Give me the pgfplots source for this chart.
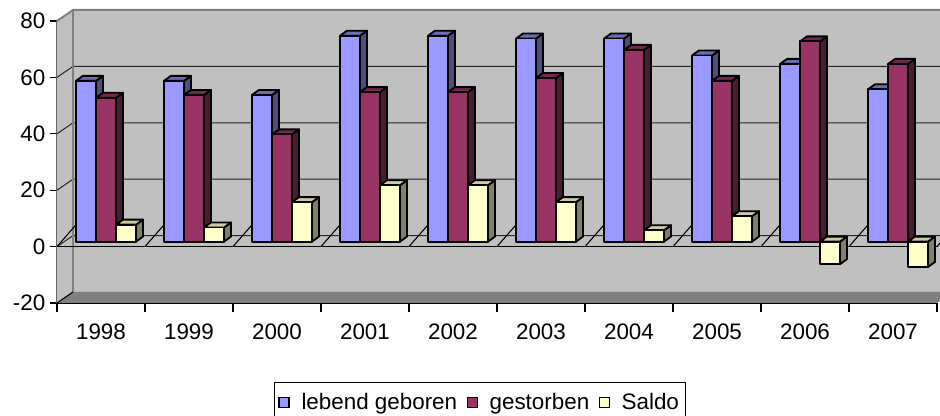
\documentclass[border=0pt]{standalone}
\usepackage{fontspec}
\setmainfont{Liberation Sans}
\usepackage{pgfplots}
\pgfplotsset{compat=1.18}

\definecolor{blueF}{HTML}{9999FF}
\definecolor{blueS}{HTML}{4D4D80}
\definecolor{blueT}{HTML}{6B6BB3}
\definecolor{purpF}{HTML}{993366}
\definecolor{purpS}{HTML}{4D1A33}
\definecolor{purpT}{HTML}{732650}
\definecolor{yelF}{HTML}{FFFFCC}
\definecolor{yelS}{HTML}{808066}
\definecolor{yelT}{HTML}{CCCCA3}
\definecolor{wall}{HTML}{C0C0C0}
\definecolor{floorc}{HTML}{808080}

% 1px = 0.75pt; bar plane and bar depth both (7px,5px)
\newdimen\barh \newdimen\bartop \newdimen\barbot \newdimen\bartopb \newdimen\barbotb
\newcommand\barbox[7]{%
  \barh=\vv pt \barh=2.115\barh
  \ifdim\barh>0pt
    \bartop=3.75pt \barbot=3.75pt \advance\barbot by -\barh
  \else
    \barbot=3.75pt \bartop=3.75pt \advance\bartop by -\barh
  \fi
  \bartopb=\bartop \advance\bartopb by 3.75pt
  \barbotb=\barbot \advance\barbotb by 3.75pt
  \pgfsetlinewidth{1.4pt}\pgfsetstrokecolor{black}\pgfsetroundjoin
  \pgfsetfillcolor{#6}%
  \pgfpathmoveto{\pgfpoint{#2pt}{\barbot}}%
  \pgfpathlineto{\pgfpoint{#4pt}{\barbotb}}%
  \pgfpathlineto{\pgfpoint{#4pt}{\bartopb}}%
  \pgfpathlineto{\pgfpoint{#2pt}{\bartop}}%
  \pgfpathclose\pgfusepath{fill,stroke}%
  \pgfsetfillcolor{#7}%
  \pgfpathmoveto{\pgfpoint{#1pt}{\bartop}}%
  \pgfpathlineto{\pgfpoint{#3pt}{\bartopb}}%
  \pgfpathlineto{\pgfpoint{#4pt}{\bartopb}}%
  \pgfpathlineto{\pgfpoint{#2pt}{\bartop}}%
  \pgfpathclose\pgfusepath{fill,stroke}%
  \pgfsetfillcolor{#5}%
  \pgfpathrectanglecorners{\pgfpoint{#1pt}{\barbot}}{\pgfpoint{#2pt}{\bartop}}%
  \pgfusepath{fill,stroke}%
}
\pgfdeclareplotmark{barA}{\barbox{-18.75}{-3.75}{-13.5}{1.5}{blueF}{blueS}{blueT}}
\pgfdeclareplotmark{barB}{\barbox{-3.75}{11.25}{1.5}{16.5}{purpF}{purpS}{purpT}}
\pgfdeclareplotmark{barC}{\barbox{11.25}{26.25}{16.5}{31.5}{yelF}{yelS}{yelT}}

\tikzset{back/.style={shift={(12pt,8.25pt)}}}

\begin{document}
\begin{tikzpicture}
\begin{axis}[
  at={(42.75pt,84.75pt)}, anchor=south west,
  x=66pt, y=2.115pt,
  xmin=-0.5, xmax=9.5, ymin=-20, ymax=80,
  clip=false,
  axis x line*=bottom, axis y line*=left,
  x axis line style={black, line width=0.8pt},
  y axis line style={draw=black!65, line width=0.8pt},
  tick align=outside,
  xtick={0,...,9},
  xticklabels={1998,1999,2000,2001,2002,2003,2004,2005,2006,2007},
  major x tick style={draw=none},
  minor xtick={-0.5,0.5,...,9.5},
  minor tick length=6.75pt,
  major tick length=5.25pt,
  tick style={black, line width=0.8pt},
  ytick={-20,0,20,40,60,80},
  yticklabels={-20,0,20,40,60,80},
  tick label style={font=\fontsize{16.8}{20}\selectfont},
  xticklabel style={anchor=base, yshift=-22.5pt},
  legend style={at={(0.4807,-0.28)}, anchor=north, legend columns=-1,
    draw=black, line width=0.9pt, font=\fontsize{16.8}{20}\selectfont,
    inner ysep=6pt, inner xsep=3pt,
    /tikz/every even column/.append style={column sep=5pt},
    /tikz/every odd column/.append style={column sep=7pt}},
  legend cell align=left,
]
% walls and floor
\fill[wall] (axis cs:-0.5,-20) -- (axis cs:-0.5,80) -- ([back]axis cs:-0.5,80) -- ([back]axis cs:-0.5,-20) -- cycle;
\fill[wall] ([back]axis cs:-0.5,-20) rectangle ([back]axis cs:9.5,80);
\fill[floorc] (axis cs:-0.5,-20) -- (axis cs:9.5,-20) -- ([back]axis cs:9.5,-20) -- ([back]axis cs:-0.5,-20) -- cycle;
\pgfplotsinvokeforeach{0,20,40,60}{
  \draw[black!85, line width=0.75pt] (axis cs:-0.5,#1) -- ([back]axis cs:-0.5,#1) -- ([back]axis cs:9.5,#1);
}
\draw[floorc, line width=1.5pt] (axis cs:-0.5,80) -- ([back]axis cs:-0.5,80) -- ([back]axis cs:9.5,80);
\draw[floorc, line width=1.2pt] ([back]axis cs:-0.5,-20) -- ([back]axis cs:-0.5,80);
\draw[black, line width=0.8pt] (axis cs:-0.5,-20) -- ([back]axis cs:-0.5,-20);
% front zero line with ticks
\draw[black, line width=0.8pt] (axis cs:-0.5,0) -- (axis cs:9.5,0);
\pgfplotsinvokeforeach{-0.5,0.5,1.5,2.5,3.5,4.5,5.5,6.5,7.5,8.5,9.5}{
  \draw[black, line width=0.8pt] (axis cs:#1,0) -- ++(0,-4.5pt);
}

\addplot[scatter, only marks, mark=barA,
  visualization depends on={value \thisrow{v}\as\vv},
  legend image code/.code={\draw[fill=blueF, draw=black, line width=0.8pt] (0pt,-3.75pt) rectangle (7.5pt,3.75pt);}]
  table[x=x, y=v] {
x v
0 57
1 57
2 52
3 73
4 73
5 72
6 72
7 66
8 63
9 54
};
\addplot[scatter, only marks, mark=barB,
  visualization depends on={value \thisrow{v}\as\vv},
  legend image code/.code={\draw[fill=purpF, draw=black, line width=0.8pt] (0pt,-3.75pt) rectangle (7.5pt,3.75pt);}]
  table[x=x, y=v] {
x v
0 51
1 52
2 38
3 53
4 53
5 58
6 68
7 57
8 71
9 63
};
\addplot[scatter, only marks, mark=barC,
  visualization depends on={value \thisrow{v}\as\vv},
  legend image code/.code={\draw[fill=yelF, draw=black, line width=0.8pt] (0pt,-3.75pt) rectangle (7.5pt,3.75pt);}]
  table[x=x, y=v] {
x v
0 6
1 5
2 14
3 20
4 20
5 14
6 4
7 9
8 -8
9 -9
};
\legend{lebend geboren, gestorben, Saldo}
\end{axis}
\pgfresetboundingbox
\useasboundingbox (0,0) rectangle (705pt,312pt);
\end{tikzpicture}
\end{document}
